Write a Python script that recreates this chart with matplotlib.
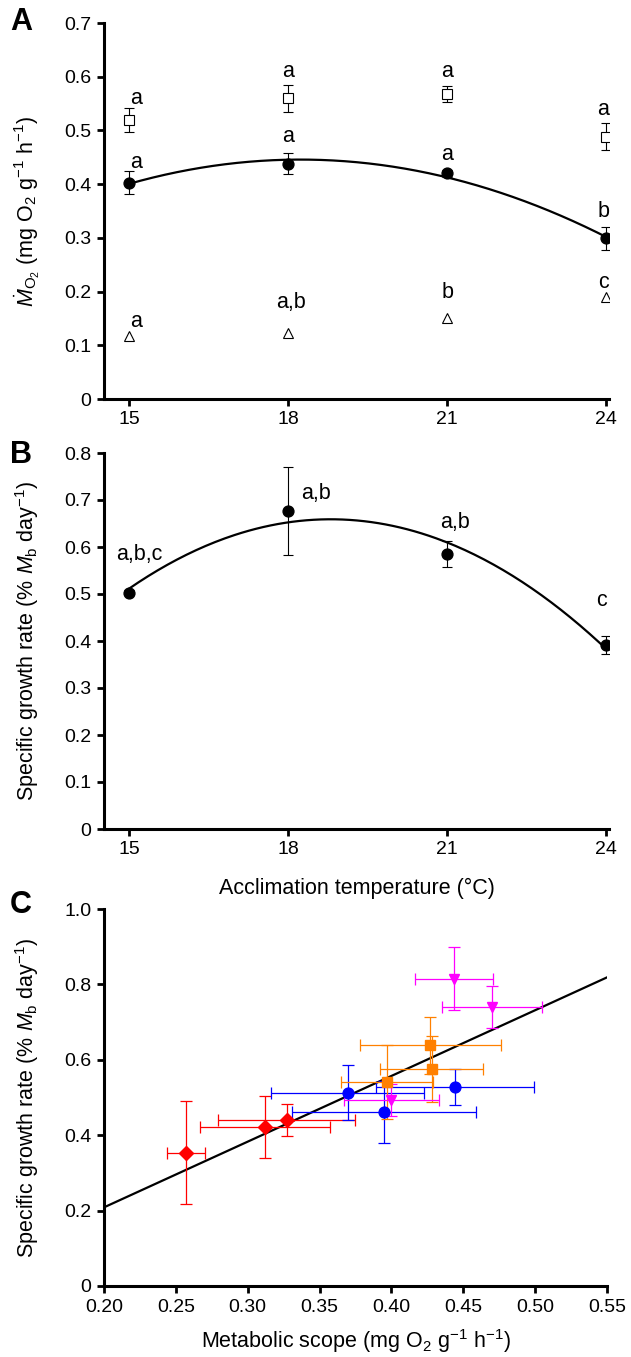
import matplotlib
matplotlib.use("Agg")
import matplotlib.pyplot as plt
import numpy as np

plt.rcParams["font.family"] = ["Liberation Sans", "DejaVu Sans"]
plt.rcParams["mathtext.fontset"] = "custom"
plt.rcParams["mathtext.rm"] = "Liberation Sans"
plt.rcParams["mathtext.it"] = "Liberation Sans:italic"
plt.rcParams["mathtext.bf"] = "Liberation Sans:bold"

# panel A: oxygen uptake vs acclimation temperature
temps = [15, 18, 21, 24]
max_mo2 = [0.520, 0.560, 0.568, 0.488]
max_mo2_err = [0.022, 0.025, 0.015, 0.025]
rout_mo2 = [0.403, 0.438, 0.420, 0.299]
rout_mo2_err = [0.022, 0.020, 0.007, 0.022]
std_mo2 = [0.117, 0.123, 0.151, 0.189]
max_letters = ["a", "a", "a", "a"]
rout_letters = ["a", "a", "a", "b"]
std_letters = ["a", "a,b", "b", "c"]

# panel B: growth vs temperature
sgr = [0.503, 0.677, 0.585, 0.391]
sgr_err = [0.006, 0.094, 0.028, 0.019]
sgr_letters = ["a,b,c", "a,b", "a,b", "c"]

# panel C: growth vs metabolic scope, one group per temperature
scope_groups = {
    "red": dict(color="#ff0000", marker="D",
                x=[0.257, 0.312, 0.327], y=[0.354, 0.421, 0.441],
                xerr=[0.013, 0.045, 0.048], yerr=[0.136, 0.082, 0.043]),
    "blue": dict(color="#0000ff", marker="o",
                 x=[0.3695, 0.395, 0.444], y=[0.513, 0.461, 0.527],
                 xerr=[0.053, 0.064, 0.055], yerr=[0.073, 0.082, 0.048]),
    "orange": dict(color="#ff8000", marker="s",
                   x=[0.397, 0.427, 0.428], y=[0.541, 0.638, 0.575],
                   xerr=[0.032, 0.049, 0.036], yerr=[0.097, 0.075, 0.087]),
    "magenta": dict(color="#ff00ff", marker="v",
                    x=[0.4436, 0.470, 0.400], y=[0.815, 0.740, 0.494],
                    xerr=[0.027, 0.035, 0.033], yerr=[0.083, 0.055, 0.042]),
}
fit_slope = 1.743
fit_intercept = -0.140

FS = 14
LFS = 15.5
W, H = 631, 1357
fig = plt.figure(figsize=(W / 100, H / 100), dpi=100)


def px_axes(x0, y0, x1, y1):
    return fig.add_axes([x0 / W, 1 - y1 / H, (x1 - x0) / W, (y1 - y0) / H])


def style(ax):
    for s in ("top", "right"):
        ax.spines[s].set_visible(False)
    for s in ("left", "bottom"):
        ax.spines[s].set_linewidth(2.2)
    ax.tick_params(direction="out", length=5, width=2, labelsize=FS, pad=4)


ebkw = dict(ecolor="black", elinewidth=0.8, capsize=3.5, capthick=0.8, ls="none")

# ---- A
axA = px_axes(104, 23, 609, 399)
style(axA)
xs = np.linspace(15, 24, 200)
pA = np.polyfit(temps, rout_mo2, 2)
axA.plot(xs, np.polyval(pA, xs), color="black", lw=1.6, zorder=2)
axA.errorbar(temps, max_mo2, yerr=max_mo2_err, marker="s", ms=6.5, mfc="white",
             mec="black", mew=0.8, zorder=3, **ebkw)
axA.errorbar(temps, rout_mo2, yerr=rout_mo2_err, marker="o", ms=7.8, mfc="black",
             mec="black", zorder=3, **ebkw)
axA.plot(temps, std_mo2, marker="^", ms=7, mfc="white", mec="black", mew=0.8,
         ls="none", zorder=3)
dx = [0.14, 0, 0, -0.06]
for i, t in enumerate(temps):
    axA.text(t + dx[i], [0.559, 0.610, 0.610, 0.539][i], max_letters[i],
             ha="center", va="center", fontsize=LFS)
    axA.text(t + dx[i], [0.441, 0.489, 0.455, 0.349][i], rout_letters[i],
             ha="center", va="center", fontsize=LFS)
    axA.text(t + dx[i] + (0.05 if i == 1 else 0), [0.145, 0.179, 0.199, 0.216][i],
             std_letters[i], ha="center", va="center", fontsize=LFS)
axA.set_xlim(14.53, 24.05)
axA.set_ylim(0, 0.7)
axA.set_xticks(temps)
axA.set_yticks(np.arange(0, 0.71, 0.1))
axA.set_yticklabels(["0"] + [f"{v:.1f}" for v in np.arange(0.1, 0.71, 0.1)])
axA.set_ylabel(r"$\dot{M}_{\mathrm{O_2}}$ (mg O$_2$ g$^{-1}$ h$^{-1}$)", fontsize=LFS)
axA.yaxis.set_label_coords(-0.122, 0.5)

# ---- B
axB = px_axes(104, 453, 609, 829)
style(axB)
pB = np.polyfit(temps, sgr, 2)
axB.plot(xs, np.polyval(pB, xs), color="black", lw=1.6, zorder=2)
axB.errorbar(temps, sgr, yerr=sgr_err, marker="o", ms=7.8, mfc="black", mec="black",
             zorder=3, **ebkw)
for t, lab, lx, ly in zip(temps, sgr_letters, [15.19, 18.53, 21.15, 23.9],
                          [0.583, 0.713, 0.652, 0.487]):
    axB.text(lx, ly, lab, ha="center", va="center", fontsize=LFS)
axB.set_xlim(14.53, 24.05)
axB.set_ylim(0, 0.8)
axB.set_xticks(temps)
axB.set_yticks(np.arange(0, 0.81, 0.1))
axB.set_yticklabels(["0"] + [f"{v:.1f}" for v in np.arange(0.1, 0.81, 0.1)])
axB.set_ylabel(r"Specific growth rate (% $M_{\mathrm{b}}$ day$^{-1}$)", fontsize=LFS)
axB.yaxis.set_label_coords(-0.125, 0.5)
axB.set_xlabel("Acclimation temperature (°C)", fontsize=LFS, labelpad=14)

# ---- C
axC = px_axes(104, 909, 607, 1286)
style(axC)
xl = np.array([0.20, 0.55])
axC.plot(xl, fit_slope * xl + fit_intercept, color="black", lw=1.6, zorder=2)
for g in scope_groups.values():
    axC.errorbar(g["x"], g["y"], xerr=g["xerr"], yerr=g["yerr"], marker=g["marker"],
                 ms=7.8 if g["marker"] != "D" else 7, color=g["color"],
                 ecolor=g["color"], elinewidth=0.9, capsize=4, capthick=0.9,
                 ls="none", zorder=3)
axC.set_xlim(0.20, 0.55)
axC.set_ylim(0, 1.0)
axC.set_xticks(np.arange(0.20, 0.551, 0.05))
axC.set_xticklabels([f"{v:.2f}" for v in np.arange(0.20, 0.551, 0.05)])
axC.set_yticks(np.arange(0, 1.01, 0.2))
axC.set_yticklabels(["0"] + [f"{v:.1f}" for v in np.arange(0.2, 1.01, 0.2)])
axC.set_ylabel(r"Specific growth rate (% $M_{\mathrm{b}}$ day$^{-1}$)", fontsize=LFS)
axC.yaxis.set_label_coords(-0.125, 0.5)
axC.set_xlabel(r"Metabolic scope (mg O$_2$ g$^{-1}$ h$^{-1}$)", fontsize=LFS, labelpad=8)

for lab, y in (("A", 22), ("B", 455), ("C", 905)):
    fig.text(21 / W, 1 - y / H, lab, fontsize=22, fontweight="bold", ha="center",
             va="center")

fig.savefig("out.png", dpi=100)
